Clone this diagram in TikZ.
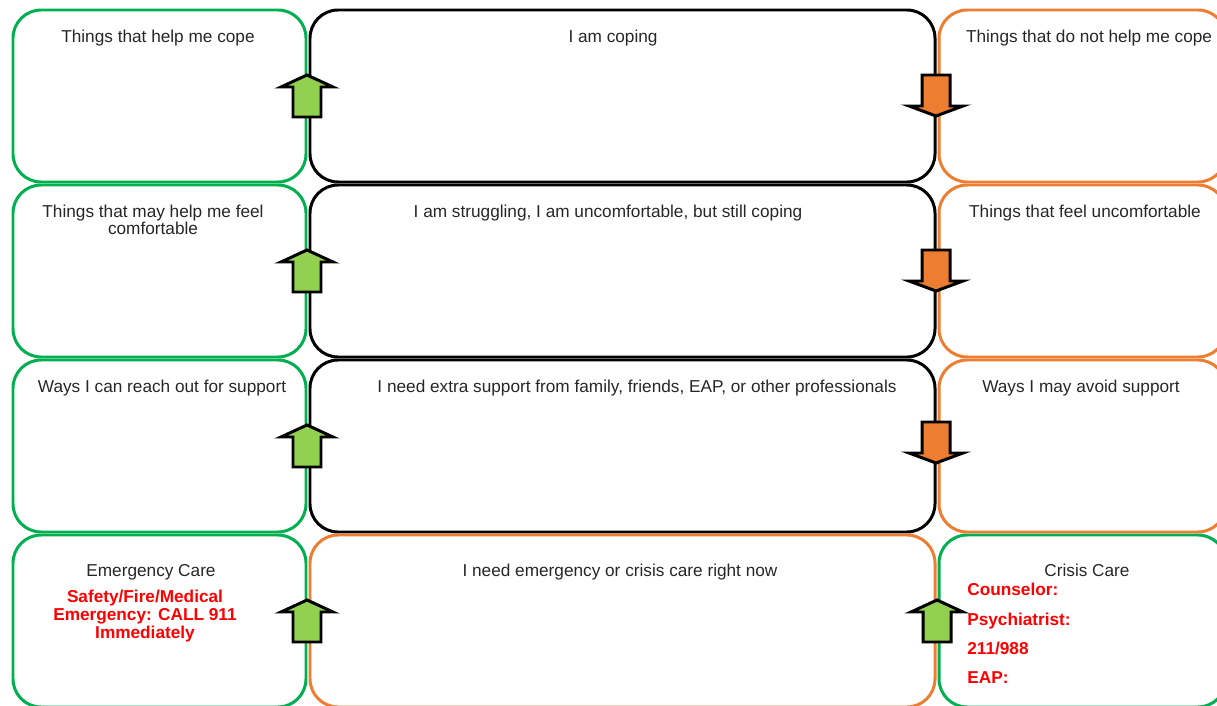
\documentclass[tikz,border=0pt]{standalone}
\usepackage{fontspec}
\setmainfont{Liberation Sans}
\usetikzlibrary{calc}

\definecolor{boxgreen}{RGB}{0,176,80}
\definecolor{boxorange}{RGB}{237,125,49}
\definecolor{arrowgreen}{RGB}{146,208,80}
\definecolor{alertred}{RGB}{255,0,0}

\tikzset{
  box/.style={line width=1.7pt, rounded corners=16pt},
  heading/.style={anchor=base, inner sep=0pt, text=black!85, font=\fontsize{9.8}{10}\selectfont},
  alert/.style={anchor=base, inner sep=0pt, text=alertred, font=\fontsize{9.8}{10.2}\selectfont\bfseries},
  uparrow/.style={draw=black, line width=1.7pt, fill=arrowgreen, line join=miter},
  downarrow/.style={draw=black, line width=1.7pt, fill=boxorange, line join=miter}
}
\def\uparr(#1,#2){\draw[uparrow, shift={(#1,#2)}] (0,0) -- (26,12) -- (14,12) -- (14,42) -- (-14,42) -- (-14,12) -- (-26,12) -- cycle;}
\def\downarr(#1,#2){\draw[downarrow, shift={(#1,#2)}] (-14,0) -- (14,0) -- (14,31) -- (27,31) -- (0,41) -- (-27,31) -- (-14,31) -- cycle;}

\begin{document}
\begin{tikzpicture}[x=0.02cm, y=-0.02cm]
		%%%%% START %%%%%
		\useasboundingbox (0,0) rectangle (1217,706);
		\clip (0,0) rectangle (1217,706);
		
		% left column
		\draw[box, draw=boxgreen] (13, 10) rectangle (306, 182);
		\draw[box, draw=boxgreen] (13, 185) rectangle (306, 357);
		\draw[box, draw=boxgreen] (13, 360) rectangle (306, 532);
		\draw[box, draw=boxgreen] (13, 535) rectangle (306, 707);
		
		% middle column
		\draw[box, draw=black] (310, 10) rectangle (935, 182);
		\draw[box, draw=black] (310, 185) rectangle (935, 357);
		\draw[box, draw=black] (310, 360) rectangle (935, 532);
		\draw[box, draw=boxorange] (310, 535) rectangle (935, 707);
		
		% right column
		\draw[box, draw=boxorange] (939, 10) rectangle (1226, 182);
		\draw[box, draw=boxorange] (939, 185) rectangle (1226, 357);
		\draw[box, draw=boxorange] (939, 360) rectangle (1226, 532);
		\draw[box, draw=boxgreen] (939, 535) rectangle (1226, 707);
		
		% last line sits on the given baseline
		\node[heading] (helpcope) at (158, 43) {Things that help me cope};
		\node[heading, align=center] (helpfeel) at (153, 234) {Things that may help me feel\\[-0.4pt]comfortable};
		\node[heading] (reachout) at (162, 392) {Ways I can reach out for support};
		\node[heading] (emergency) at (151, 576) {Emergency Care};
		\node[alert, align=center] (call911) at (145, 638) {Safety/Fire/Medical\\Emergency: CALL 911\\Immediately};
		
		\node[heading] (coping) at (613, 43) {I am coping};
		\node[heading] (struggling) at (608, 217) {I am struggling, I am uncomfortable, but still coping};
		\node[heading] (extra) at (637, 392) {I need extra support from family, friends, EAP, or other professionals};
		\node[heading] (rightnow) at (620, 576) {I need emergency or crisis care right now};
		
		\node[heading] (nothelp) at (1089, 43) {Things that do not help me cope};
		\node[heading] (uncomf) at (1085, 217) {Things that feel uncomfortable};
		\node[heading] (avoid) at (1081, 392) {Ways I may avoid support};
		\node[heading] (crisis) at (1087, 576) {Crisis Care};
		\node[alert, anchor=base west] (counselor) at (967, 595) {Counselor:};
		\node[alert, anchor=base west] (psychiatrist) at (967, 625) {Psychiatrist:};
		\node[alert, anchor=base west] (hotline) at (967, 654) {211/988};
		\node[alert, anchor=base west] (eap) at (967, 683) {EAP:};
		
		% arrows
		\uparr(307,75)
		\uparr(307,250)
		\uparr(307,425)
		\uparr(307,600)
		\uparr(937,600)
		\downarr(936,75)
		\downarr(936,250)
		\downarr(936,422)
		
		%%%%% END %%%%%
\end{tikzpicture}
\end{document}
